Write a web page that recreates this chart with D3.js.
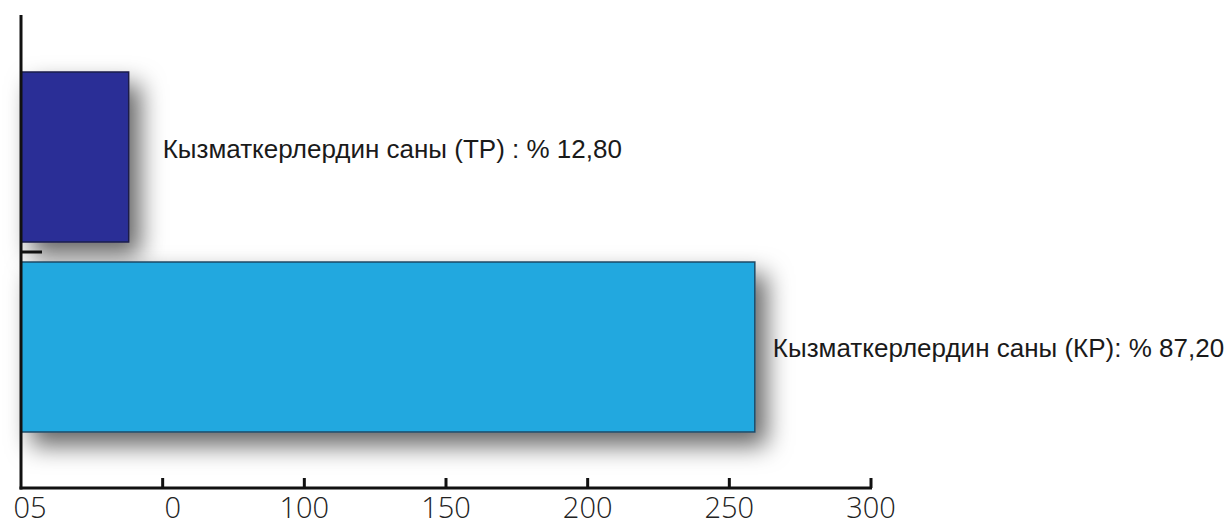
<!DOCTYPE html>
<html>
<head>
<meta charset="utf-8">
<script src="https://cdn.jsdelivr.net/npm/d3@7"></script>
<style>
  html, body { margin: 0; padding: 0; background: #fff; }
  svg { display: block; }
</style>
</head>
<body>
<svg id="chart" width="1227" height="527"></svg>
<script>
// ---- data ----
const categories = ["TP", "KP"];
const values = [38, 259];
const barLabels = ["Кызматкерлердин саны (ТР) : % 12,80", "Кызматкерлердин саны (КР): % 87,20"];
const barColors = ["#2b2f96", "#22a8df"];
const tickValues = [0, 50, 100, 150, 200, 250, 300];
const tickLabels = ["05", "0", "100", "150", "200", "250", "300"];

// ---- layout ----
const svg = d3.select("#chart");
const x = d3.scaleLinear().domain([0, 300]).range([21, 871]);
const y = d3.scaleBand().domain(categories).range([72, 432]).paddingInner(20 / 190).paddingOuter(0);
const axisY = 488;

const defs = svg.append("defs");
const f = defs.append("filter").attr("id", "shadow")
  .attr("x", "-20%").attr("y", "-30%").attr("width", "160%").attr("height", "180%");
f.append("feDropShadow").attr("dx", 11).attr("dy", 13).attr("stdDeviation", 12)
  .attr("flood-color", "#000").attr("flood-opacity", 0.6);

// bars
svg.append("g").selectAll("rect")
  .data(categories)
  .join("rect")
  .attr("x", x(0))
  .attr("y", d => y(d))
  .attr("width", (d, i) => x(values[i]) - x(0))
  .attr("height", y.bandwidth())
  .attr("fill", (d, i) => barColors[i])
  .attr("stroke", (d, i) => i === 0 ? "#1b1c4a" : "#1f4a66")
  .attr("stroke-width", 1.5)
  .attr("filter", "url(#shadow)");

// bar labels
const labelDx = [34, 18];
const labelDy = [1, 10];
svg.append("g").selectAll("text")
  .data(categories)
  .join("text")
  .attr("x", (d, i) => x(values[i]) + labelDx[i])
  .attr("y", (d, i) => y(d) + y.bandwidth() / 2 + labelDy[i])
  .attr("font-family", "Liberation Sans, Arial, sans-serif")
  .attr("font-size", 26)
  .attr("fill", "#1a1a1a")
  .text((d, i) => barLabels[i]);

// axes
const axes = svg.append("g").attr("stroke", "#111").attr("stroke-linecap", "butt");
axes.append("line").attr("x1", x(0)).attr("x2", x(0)).attr("y1", 15).attr("y2", axisY + 1.5).attr("stroke-width", 3);
axes.append("line").attr("x1", x(0) - 1.5).attr("x2", x(300) + 1).attr("y1", axisY).attr("y2", axisY).attr("stroke-width", 3);
// small category separator tick on y axis
const sepY = (y(categories[0]) + y.bandwidth() + y(categories[1])) / 2;
axes.append("line").attr("x1", x(0)).attr("x2", x(0) + 21).attr("y1", sepY).attr("y2", sepY).attr("stroke-width", 3);

// x ticks
axes.selectAll(".tk")
  .data(tickValues.filter(v => v > 0))
  .join("line")
  .attr("class", "tk")
  .attr("x1", d => x(d)).attr("x2", d => x(d))
  .attr("y1", axisY - 10).attr("y2", axisY)
  .attr("stroke-width", 3);

// tick labels
svg.append("g").selectAll("text")
  .data(tickValues)
  .join("text")
  .attr("x", (d, i) => x(d) + (i === 0 ? 9 : i === 1 ? 10 : 0))
  .attr("y", axisY + 30)
  .attr("text-anchor", "middle")
  .attr("font-family", "Open Sans, sans-serif")
  .attr("font-weight", 300)
  .attr("font-size", 29)
  .attr("fill", "#222")
  .text((d, i) => tickLabels[i]);
</script>
</body>
</html>
